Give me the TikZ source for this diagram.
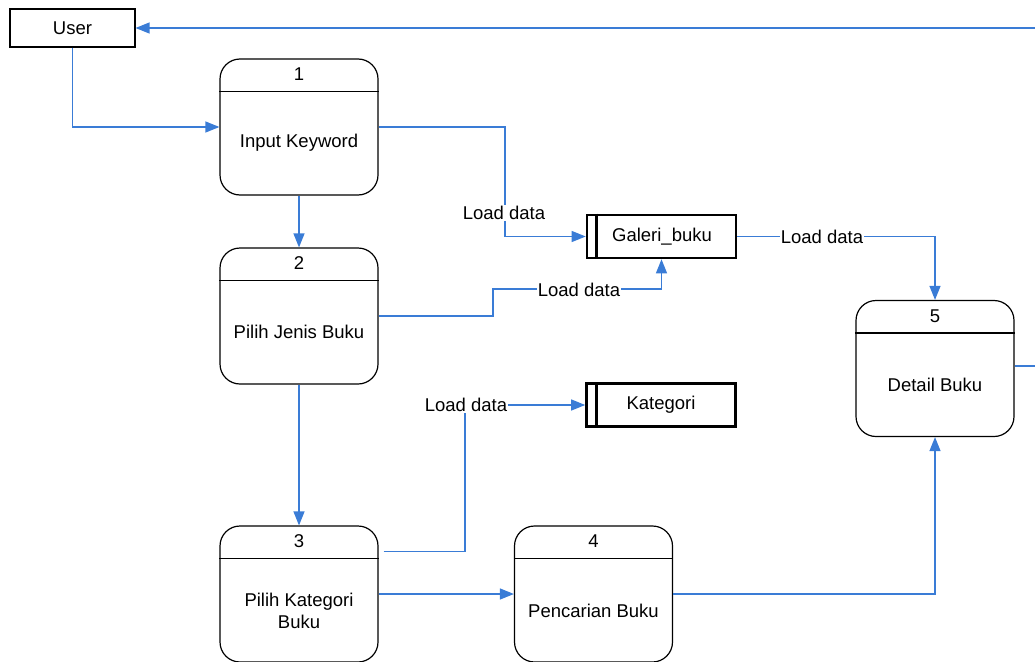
\documentclass[tikz,border=0pt]{standalone}
\usepackage{fontspec}
\setmainfont{Liberation Sans}
\usetikzlibrary{arrows.meta}
\definecolor{flowblue}{RGB}{58,124,214}
\begin{document}
\begin{tikzpicture}[x=1pt,y=-1pt,
  every node/.style={font=\fontsize{18.5}{22}\selectfont, inner sep=0pt},
  proc/.style={draw=black, line width=1.2pt, rounded corners=20pt, minimum width=158pt, minimum height=136pt},
  store/.style={draw=black, line width=2.6pt, minimum width=149pt, minimum height=43pt},
  ext/.style={draw=black, line width=1.1pt, minimum width=125pt, minimum height=38pt},
  flow/.style={draw=flowblue, line width=1.2pt, -{Triangle[length=14pt,width=11pt]}},
  flowline/.style={draw=flowblue, line width=1.2pt},
  lbl/.style={fill=white, inner sep=1pt},
  divider/.style={draw=black, line width=1.2pt}
]
\path[use as bounding box] (0,0) rectangle (1035,661);
\clip (0,0) rectangle (1035,661);

% external entity
\node[ext] (user) at (72.5,28) {User};

% processes
\node[proc] (p1) at (299,127) {};
\node[proc] (p2) at (299,316) {};
\node[proc] (p3) at (299,594) {};
\node[proc] (p4) at (593.5,594) {};
\node[proc] (p5) at (935,368.5) {};

\foreach \p in {p1,p2,p3,p4,p5}{
  \draw[divider] ([yshift=-33pt]\p.north west) -- ([yshift=-33pt]\p.north east);
}

\node (p1n) at ([yshift=-16pt]p1.north) {1};
\node (p1t) at ([yshift=-84pt]p1.north) {Input Keyword};
\node (p2n) at ([yshift=-16pt]p2.north) {2};
\node (p2t) at ([yshift=-84pt]p2.north) {Pilih Jenis Buku};
\node (p3n) at ([yshift=-16pt]p3.north) {3};
\node[align=center] (p3t) at ([yshift=-85pt]p3.north) {Pilih Kategori\\Buku};
\node (p4n) at ([yshift=-16pt]p4.north) {4};
\node (p4t) at ([yshift=-85pt]p4.north) {Pencarian Buku};
\node (p5n) at ([yshift=-16pt]p5.north) {5};
\node (p5t) at ([yshift=-85pt]p5.north) {Detail Buku};

% data stores
\node[store] (gal) at (661.5,236.5) {};
\draw[line width=2.6pt] ([xshift=11pt]gal.north west) -- ([xshift=11pt]gal.south west);
\node (galt) at (662,237) {Galeri\_buku};
\node[store] (kat) at (661,405) {};
\draw[line width=2.6pt] ([xshift=11pt]kat.north west) -- ([xshift=11pt]kat.south west);
\node (katt) at (661,405) {Kategori};

% flows
\draw[flow] (user.south) |- (p1.west);
\draw[flow] (p1.east) -- (505,127) |- (gal.west);
\node[lbl] (l1) at (504,213) {Load data};
\draw[flow] (p1.south) -- (p2.north);
\draw[flow] (p2.east) -- (493,316) -- (493,289) -| (gal.south);
\node[lbl] (l2) at (579,290) {Load data};
\draw[flow] (gal.east) -| (p5.north);
\node[lbl] (l3) at (822,237) {Load data};
\draw[flow] (p2.south) -- (p3.north);
\coordinate (p3out) at ([xshift=5pt,yshift=-26pt]p3.north east);
\draw[flow] (p3out) -| (465,405) -- (kat.west);
\node[lbl] (l4) at (466,405) {Load data};
\draw[flow] (p3.east) -- (p4.west);
\draw[flow] (p4.east) -| (p5.south);
\coordinate (rt) at (1050,366);
\draw[flow] ([yshift=2.5pt]p5.east) -- (rt) |- (user.east);
\end{tikzpicture}
\end{document}
